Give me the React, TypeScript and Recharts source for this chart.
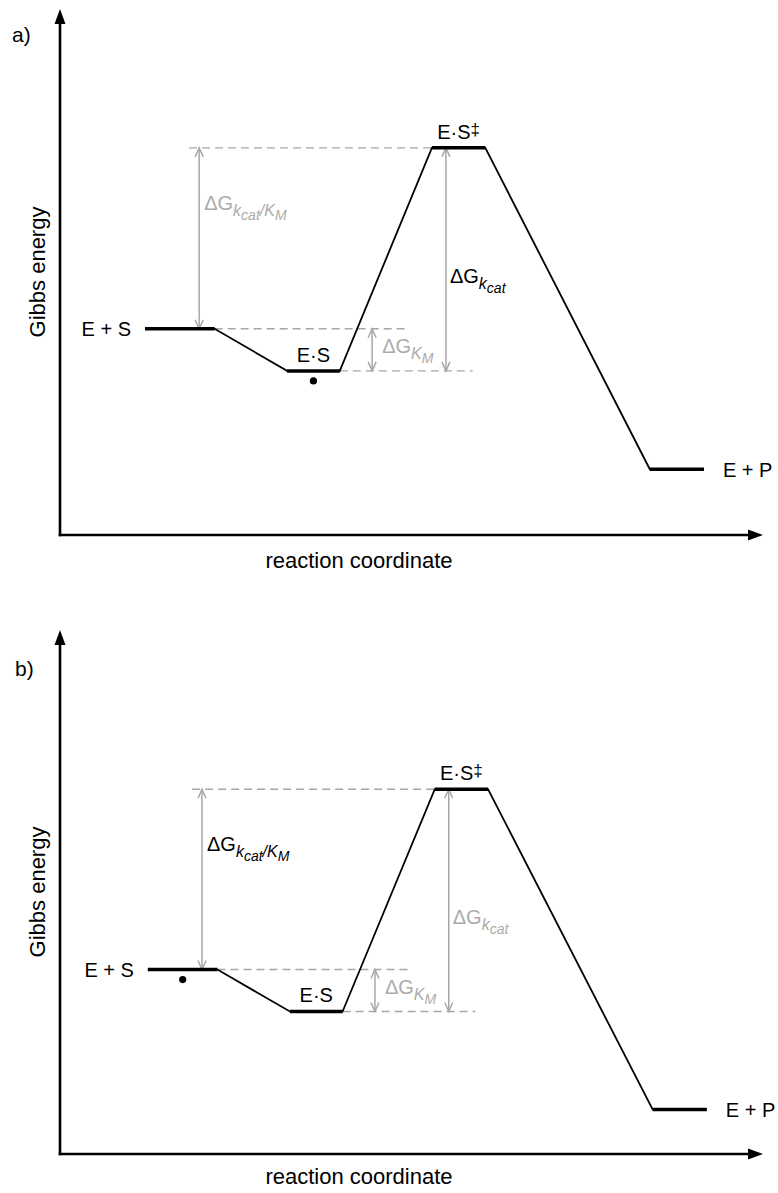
import React from 'react';
import { ComposedChart, Line, XAxis, YAxis, ReferenceLine, ReferenceDot } from 'recharts';

// ---------- data ----------
const STATE_LABELS = ['E + S', 'E·S', 'E·S', 'E + P'];
const STATE_SUPER = ['', '', '‡', ''];
const PANEL_TAGS = ['a)', 'b)'];
const X_TITLE = 'reaction coordinate';
const Y_TITLE = 'Gibbs energy';

// Panel a: reaction-coordinate extent and Gibbs energy of each state
const A_LEVEL_START = [12.1, 32.3, 52.9, 83.9];
const A_LEVEL_END = [22.0, 39.8, 60.5, 91.6];
const A_ENERGY = [39.2, 31.2, 73.6, 12.5];
// ΔG arrows: kcat/KM, KM, kcat
const A_ARROW_X = [19.8, 44.4, 54.9];
const A_LABEL_E = [61.8, 34.6, 47.9];
// dashed guides at ES‡, E+S, E·S levels
const A_DASH_START = [18.35, 22.0, 39.8];
const A_DASH_END = [52.9, 49.4, 58.7];

// Panel b
const B_LEVEL_START = [12.5, 32.7, 53.3, 84.3];
const B_LEVEL_END = [22.4, 40.2, 60.9, 92.0];
const B_ENERGY = [35.2, 27.2, 69.6, 8.5];
const B_ARROW_X = [20.2, 44.8, 55.3];
const B_LABEL_E = [57.8, 30.6, 43.9];
const B_DASH_START = [18.8, 22.4, 40.2];
const B_DASH_END = [53.3, 49.8, 59.1];

// arrow endpoints as state indices [from, to]
const ARROW_STATES = [[2, 0], [0, 1], [2, 1]];
const DASH_STATES = [2, 0, 1];
const ARROW_SUBS = [
  [{ t: 'k', l: 1 }, { t: 'cat', l: 2 }, { t: '/', l: 1 }, { t: 'K', l: 1 }, { t: 'M', l: 2 }],
  [{ t: 'K', l: 1 }, { t: 'M', l: 2 }],
  [{ t: 'k', l: 1 }, { t: 'cat', l: 2 }],
];

// ---------- styles ----------
const FONT = '"Liberation Sans", Arial, Helvetica, sans-serif';
const GRAY_TEXT = '#ababab';
const GRAY_LINE = '#a8a8a8';
const DASH_COLOR = '#a6a6a6';
const LEVEL_W = 3.5;
const LINK_W = 1.8;
const SUB_DY = [0, 6, 10];
const SUB_FS = [20, 16, 14];
const LABEL_DX = [5, 10, 4];

type Panel = {
  tag: string;
  start: number[];
  end: number[];
  energy: number[];
  arrowX: number[];
  labelE: number[];
  dashStart: number[];
  dashEnd: number[];
  highlight: number;
  ground: number;
  height: number;
  marginTop: number;
  xAxisH: number;
  xTitleDy: number;
  tagDx: number;
  tagDy: number;
};

const PANELS: Panel[] = [
  {
    tag: PANEL_TAGS[0], start: A_LEVEL_START, end: A_LEVEL_END, energy: A_ENERGY,
    arrowX: A_ARROW_X, labelE: A_LABEL_E, dashStart: A_DASH_START, dashEnd: A_DASH_END,
    highlight: 2, ground: 1, height: 596, marginTop: 9, xAxisH: 61, xTitleDy: 33, tagDx: -48, tagDy: 33,
  },
  {
    tag: PANEL_TAGS[1], start: B_LEVEL_START, end: B_LEVEL_END, energy: B_ENERGY,
    arrowX: B_ARROW_X, labelE: B_LABEL_E, dashStart: B_DASH_START, dashEnd: B_DASH_END,
    highlight: 0, ground: 0, height: 597, marginTop: 34, xAxisH: 39, xTitleDy: 30, tagDx: -45, tagDy: 46,
  },
];

// ---------- shapes ----------
const axisArrow = (p: any) => {
  const { x1, y1, x2, y2 } = p;
  const len = Math.hypot(x2 - x1, y2 - y1);
  const ux = (x2 - x1) / len;
  const uy = (y2 - y1) / len;
  const hl = 15;
  const hw = 5.5;
  const bx = x2 - ux * hl;
  const by = y2 - uy * hl;
  return (
    <g>
      <line x1={x1} y1={y1} x2={bx + ux} y2={by + uy} stroke="#000" strokeWidth={2.6} strokeLinecap="square" />
      <polygon
        points={`${x2},${y2} ${bx - uy * hw},${by + ux * hw} ${bx + uy * hw},${by - ux * hw}`}
        fill="#000"
      />
    </g>
  );
};

const doubleArrow = (p: any) => {
  const { x1, y1, x2, y2 } = p;
  const len = Math.hypot(x2 - x1, y2 - y1);
  const ux = (x2 - x1) / len;
  const uy = (y2 - y1) / len;
  const hl = 9;
  const hw = 4;
  const head = (tx: number, ty: number, dx: number, dy: number) =>
    `M${tx - dx * hl - dy * hw},${ty - dy * hl + dx * hw} L${tx},${ty} L${tx - dx * hl + dy * hw},${ty - dy * hl - dx * hw}`;
  return (
    <g>
      <line x1={x1} y1={y1} x2={x2} y2={y2} stroke={GRAY_LINE} strokeWidth={1.5} />
      <path d={`${head(x2, y2, ux, uy)} ${head(x1, y1, -ux, -uy)}`} fill="none" stroke={GRAY_LINE} strokeWidth={1.5} />
    </g>
  );
};

const deltaGLabel = (subs: { t: string; l: number }[], color: string, dx: number) => (p: any) => {
  let prev = 0;
  return (
    <text x={p.cx + dx} y={p.cy} fill={color} fontSize={20} fontFamily={FONT}>
      ΔG
      {subs.map((s, i) => {
        const dy = SUB_DY[s.l] - prev;
        prev = SUB_DY[s.l];
        return (
          <tspan key={i} dy={dy} fontSize={SUB_FS[s.l]} fontStyle="italic">
            {s.t}
          </tspan>
        );
      })}
    </text>
  );
};

const stateLabel = (i: number) => (p: any) => {
  const common = { fontSize: 20, fontFamily: FONT, fill: '#000' };
  if (i === 0) {
    return <text x={p.cx - 14} y={p.cy + 7} textAnchor="end" {...common}>{STATE_LABELS[i]}</text>;
  }
  if (i === 3) {
    return <text x={p.cx + 19} y={p.cy + 8} textAnchor="start" {...common}>{STATE_LABELS[i]}</text>;
  }
  return (
    <text x={p.cx} y={p.cy - 9} textAnchor="middle" {...common}>
      {STATE_LABELS[i]}
      {STATE_SUPER[i] ? <tspan dy={-4} fontSize={17}>{STATE_SUPER[i]}</tspan> : null}
    </text>
  );
};

const groundDot = (p: any) => <circle cx={p.cx} cy={p.cy + 10} r={3.6} fill="#000" />;

const tagShape = (txt: string, dx: number, dy: number) => (p: any) => (
  <text x={p.cx + dx} y={p.cy + dy} fontSize={21} fontFamily={FONT} fill="#000">{txt}</text>
);

const xTitle = (dy: number) => (p: any) => {
  const vb = p.viewBox;
  return (
    <text x={vb.x + 299} y={vb.y + dy} textAnchor="middle" fontSize={22} fontFamily={FONT} fill="#000">
      {X_TITLE}
    </text>
  );
};

const yTitle = (p: any) => {
  const vb = p.viewBox;
  const cx = 45;
  const cy = vb.y + vb.height / 2;
  return (
    <text x={cx} y={cy} transform={`rotate(-90 ${cx} ${cy})`} textAnchor="middle" fontSize={22} fontFamily={FONT} fill="#000">
      {Y_TITLE}
    </text>
  );
};

function EnergyPanel({ panel }: { panel: Panel }) {
  const profile = panel.start.flatMap((s, i) => [
    { x: s, e: panel.energy[i] },
    { x: panel.end[i], e: panel.energy[i] },
  ]);
  return (
    <ComposedChart
      width={778}
      height={panel.height}
      data={profile}
      margin={{ top: panel.marginTop, right: 15, bottom: 0, left: 0 }}
    >
      <XAxis
        type="number"
        dataKey="x"
        domain={[0, 100]}
        allowDataOverflow
        tick={false}
        tickLine={false}
        axisLine={false}
        height={panel.xAxisH}
        label={{ content: xTitle(panel.xTitleDy) }}
      />
      <YAxis
        type="number"
        domain={[0, 100]}
        allowDataOverflow
        tick={false}
        tickLine={false}
        axisLine={false}
        width={60}
        label={{ content: yTitle }}
      />
      {/* dashed guides */}
      {DASH_STATES.map((s, k) => (
        <ReferenceLine
          key={`d${k}`}
          ifOverflow="visible"
          segment={[
            { x: panel.dashStart[k], y: panel.energy[s] },
            { x: panel.dashEnd[k], y: panel.energy[s] },
          ]}
          stroke={DASH_COLOR}
          strokeWidth={1.4}
          strokeDasharray="8 5"
        />
      ))}
      {/* ΔG arrows */}
      {ARROW_STATES.map(([a, b], k) => (
        <ReferenceLine
          key={`a${k}`}
          ifOverflow="visible"
          segment={[
            { x: panel.arrowX[k], y: panel.energy[a] },
            { x: panel.arrowX[k], y: panel.energy[b] },
          ]}
          shape={doubleArrow}
        />
      ))}
      {/* reaction profile */}
      <Line
        type="linear"
        dataKey="e"
        stroke="#000"
        strokeWidth={LINK_W}
        dot={false}
        activeDot={false}
        isAnimationActive={false}
      />
      {/* energy levels */}
      {panel.start.map((s, i) => (
        <ReferenceLine
          key={`l${i}`}
          ifOverflow="visible"
          segment={[
            { x: s, y: panel.energy[i] },
            { x: panel.end[i], y: panel.energy[i] },
          ]}
          stroke="#000"
          strokeWidth={LEVEL_W}
        />
      ))}
      {/* axes with arrowheads */}
      <ReferenceLine ifOverflow="visible" segment={[{ x: 0, y: 0 }, { x: 0, y: 100 }]} shape={axisArrow} />
      <ReferenceLine ifOverflow="visible" segment={[{ x: 0, y: 0 }, { x: 100, y: 0 }]} shape={axisArrow} />
      {/* state labels */}
      {panel.start.map((s, i) => (
        <ReferenceDot
          key={`s${i}`}
          ifOverflow="visible"
          x={i === 0 ? s : i === 3 ? panel.end[i] : (s + panel.end[i]) / 2}
          y={panel.energy[i]}
          shape={stateLabel(i)}
        />
      ))}
      {/* ground state dot */}
      <ReferenceDot
        ifOverflow="visible"
        x={(panel.start[panel.ground] + panel.end[panel.ground]) / 2}
        y={panel.energy[panel.ground]}
        shape={groundDot}
      />
      {/* ΔG labels */}
      {ARROW_SUBS.map((subs, k) => (
        <ReferenceDot
          key={`g${k}`}
          ifOverflow="visible"
          x={panel.arrowX[k]}
          y={panel.labelE[k]}
          shape={deltaGLabel(subs, k === panel.highlight ? '#000' : GRAY_TEXT, LABEL_DX[k])}
        />
      ))}
      {/* panel tag */}
      <ReferenceDot ifOverflow="visible" x={0} y={100} shape={tagShape(panel.tag, panel.tagDx, panel.tagDy)} />
    </ComposedChart>
  );
}

export default function App() {
  return (
    <div style={{ position: 'absolute', left: 0, top: 0, width: 778, height: 1193, background: '#fff' }}>
      {PANELS.map((p, i) => (
        <EnergyPanel key={i} panel={p} />
      ))}
    </div>
  );
}
